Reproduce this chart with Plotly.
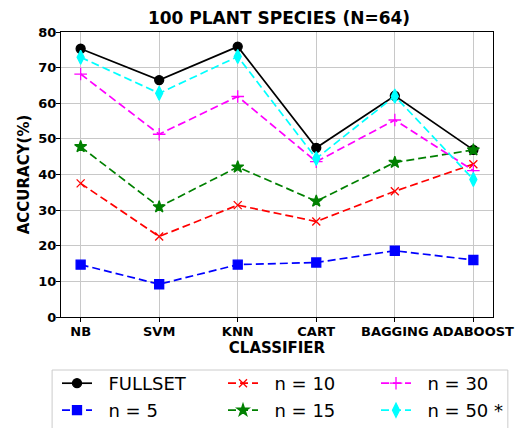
import plotly.graph_objects as go

classifiers = ["NB", "SVM", "KNN", "CART", "BAGGING", "ADABOOST"]

fullset = [75.3, 66.5, 75.9, 47.5, 62.1, 46.9]
n5 = [14.7, 9.2, 14.7, 15.3, 18.6, 16.0]
n10 = [37.5, 22.6, 31.4, 26.8, 35.3, 42.9]
n15 = [47.8, 30.9, 42.1, 32.5, 43.4, 46.9]
n30 = [68.2, 51.3, 61.9, 43.6, 55.3, 41.1]
n50 = [72.9, 62.8, 73.1, 44.5, 62.0, 38.6]

# name, values, colour, marker, dash, marker size
series = [
    ("FULLSET", fullset, "black", "circle", "solid", 9),
    ("n = 5", n5, "blue", "square", "8px,4px", 9),
    ("n = 10", n10, "red", "x-thin-open", "8px,4px", 8),
    ("n = 15", n15, "green", "star", "8px,4px", 9),
    ("n = 30", n30, "magenta", "cross-thin-open", "8px,4px", 9),
    ("n = 50 *", n50, "cyan", "diamond-tall", "8px,4px", 10),
]

# legend grid: 3 columns x 2 rows, filled column by column
LEG_COLS = [57, 223, 376]
LEG_ROWS = [365, 392]
PAD = "\u00a0\u00a0"  # extra gap between legend symbol and label

FONT = "DejaVu Sans"
W, H = 526, 428
ML, MR, MT, MB = 61, 28, 32, 111
PW, PH = W - ML - MR, H - MT - MB

fig = go.Figure()
legends = {}
for i, (name, vals, color, symbol, dash, size) in enumerate(series):
    leg_id = "legend" if i == 0 else f"legend{i + 1}"
    legends[leg_id] = dict(
        orientation="h",
        xref="container", yref="container",
        x=LEG_COLS[i // 2] / W, xanchor="left",
        y=1 - LEG_ROWS[i % 2] / H, yanchor="top",
        font=dict(family=FONT, size=18),
        borderwidth=0,
        bgcolor="rgba(0,0,0,0)",
    )
    fig.add_trace(go.Scatter(
        x=list(range(len(classifiers))),
        y=vals,
        mode="lines+markers",
        name=PAD + name,
        legend=leg_id,
        line=dict(color=color, width=1.7, dash=dash),
        marker=dict(symbol=symbol, size=size, color=color,
                    line=dict(color=color, width=1.3)),
    ))

fig.update_layout(
    width=W,
    height=H,
    margin=dict(l=ML, r=MR, t=MT, b=MB),
    paper_bgcolor="white",
    plot_bgcolor="white",
    font=dict(family=FONT, color="black"),
    title=dict(
        text="100 PLANT SPECIES (N=64)",
        font=dict(family=FONT, size=17, weight="bold"),
        x=279 / W, xanchor="center", xref="container",
        y=1 - 18 / H, yanchor="middle", yref="container",
    ),
    showlegend=True,
    # frame around the legend block
    shapes=[dict(
        type="rect", xref="paper", yref="paper",
        x0=(52 - ML) / PW, x1=(513 - ML) / PW,
        y0=(MT + PH - 370) / PH, y1=(MT + PH - 440) / PH,
        line=dict(color="#cccccc", width=1),
        fillcolor="rgba(0,0,0,0)",
        layer="below",
    )],
    **legends,
)

fig.update_xaxes(
    range=[-0.25, 5.25],
    tickmode="array",
    tickvals=list(range(len(classifiers))),
    ticktext=classifiers,
    tickfont=dict(family=FONT, size=13, weight="bold"),
    ticks="outside", ticklen=4, tickcolor="black",
    ticklabelstandoff=-2,
    showgrid=True, gridcolor="#c8c8c8", gridwidth=1,
    showline=True, linecolor="black", linewidth=1, mirror=True,
    zeroline=False,
    title=dict(text="CLASSIFIER", font=dict(family=FONT, size=15, weight="bold"),
               standoff=0),
)
fig.update_yaxes(
    range=[0, 80],
    tickmode="array",
    tickvals=[0, 10, 20, 30, 40, 50, 60, 70, 80],
    tickfont=dict(family=FONT, size=13, weight="bold"),
    ticks="outside", ticklen=4, tickcolor="black",
    ticklabelstandoff=-3,
    showgrid=True, gridcolor="#c8c8c8", gridwidth=1,
    showline=True, linecolor="black", linewidth=1, mirror=True,
    zeroline=False,
    title=dict(text="ACCURACY(%)", font=dict(family=FONT, size=15, weight="bold"),
               standoff=5),
)

# drop the browser's default 8px body margin so the figure sits at the page corner
fig.write_html(
    "out.html",
    config={"displayModeBar": False},
    post_script="document.body.style.margin='0';",
)
